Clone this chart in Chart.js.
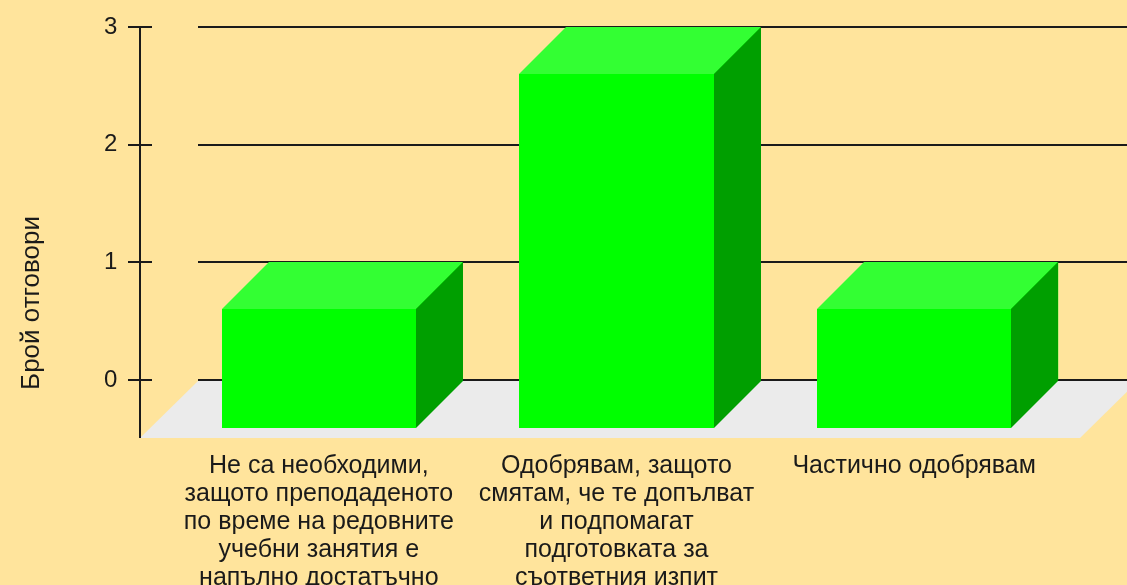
<!DOCTYPE html>
<html><head><meta charset="utf-8">
<script src="https://cdn.jsdelivr.net/npm/chart.js@4/dist/chart.umd.min.js"></script>
<style>html,body{margin:0;padding:0;background:#FFE49C;overflow:hidden}#wrap{width:1127px;height:585px;position:relative}</style>
</head><body><div id="wrap"><canvas id="c" width="1127" height="585"></canvas></div>
<script>
const categories = [
  ["Не са необходими,", "защото преподаденото", "по време на редовните", "учебни занятия е", "напълно достатъчно"],
  ["Одобрявам, защото", "смятам, че те допълват", "и подпомагат", "подготовката за", "съответния изпит"],
  ["Частично одобрявам"]
];
const answers = [1, 3, 1];
const yTickValues = [0, 1, 2, 3];
const yTitle = "Брой отговори";

const BG = '#FFE49C';
const FONT = "'Liberation Sans', Arial, sans-serif";
const DEPTH = 47;

function poly(ctx, pts) {
  ctx.beginPath();
  ctx.moveTo(pts[0][0], pts[0][1]);
  for (let i = 1; i < pts.length; i++) ctx.lineTo(pts[i][0], pts[i][1]);
  ctx.closePath();
  ctx.fill();
}

const threeD = {
  id: 'threeD',
  beforeDraw(chart) {
    const ctx = chart.ctx;
    ctx.save();
    ctx.fillStyle = BG;
    ctx.fillRect(0, 0, chart.width, chart.height);
    ctx.restore();
  },
  beforeDatasetsDraw(chart) {
    const {ctx, chartArea} = chart;
    const y = chart.scales.y;
    const axisX = chartArea.left - 77;
    const zero = y.getPixelForValue(0);
    const floorDepth = Math.round(chartArea.bottom - zero);
    const wallX = axisX + floorDepth;
    ctx.save();
    // back wall grid lines
    ctx.strokeStyle = '#1a1a1a';
    ctx.lineWidth = 2;
    yTickValues.forEach(v => {
      const py = Math.round(y.getPixelForValue(v));
      ctx.beginPath(); ctx.moveTo(wallX, py); ctx.lineTo(chart.width, py); ctx.stroke();
    });
    // floor
    ctx.fillStyle = '#EBEBEB';
    const fb = Math.round(chartArea.bottom);
    poly(ctx, [[axisX, fb], [axisX + 940, fb], [axisX + 940 + floorDepth, zero + 1], [wallX, zero + 1]]);
    // y axis line and ticks
    ctx.beginPath(); ctx.moveTo(axisX, chartArea.top); ctx.lineTo(axisX, fb); ctx.stroke();
    yTickValues.forEach(v => {
      const py = Math.round(y.getPixelForValue(v));
      ctx.beginPath(); ctx.moveTo(axisX - 12, py); ctx.lineTo(axisX + 12, py); ctx.stroke();
    });
    // y axis title
    ctx.fillStyle = '#1a1a1a';
    ctx.font = '26px ' + FONT;
    ctx.textAlign = 'center';
    ctx.textBaseline = 'alphabetic';
    ctx.translate(39, 303);
    ctx.rotate(-Math.PI / 2);
    ctx.fillText(yTitle, 0, 0);
    ctx.restore();
  },
  afterDatasetsDraw(chart) {
    const ctx = chart.ctx;
    const meta = chart.getDatasetMeta(0);
    ctx.save();
    meta.data.forEach(bar => {
      const p = bar.getProps(['x', 'y', 'base', 'width'], true);
      const bl = Math.round(p.x - p.width / 2), br = Math.round(p.x + p.width / 2);
      const top = Math.round(p.y), base = Math.round(p.base) + 1;
      const d = DEPTH;
      ctx.fillStyle = '#33FF33';
      poly(ctx, [[bl - d, top + d], [br - d, top + d], [br, top], [bl, top]]);
      ctx.fillStyle = '#009F00';
      poly(ctx, [[br - d, top + d], [br, top], [br, base], [br - d, base + d]]);
      ctx.fillStyle = '#00FF00';
      ctx.fillRect(bl - d, top + d, br - bl, base - top);
    });
    ctx.restore();
  }
};

new Chart(document.getElementById('c'), {
  type: 'bar',
  data: {
    labels: categories,
    datasets: [{
      data: answers,
      backgroundColor: '#00FF00',
      borderWidth: 0,
      barPercentage: 0.652,
      categoryPercentage: 1
    }]
  },
  options: {
    responsive: false,
    animation: false,
    devicePixelRatio: 1,
    layout: {padding: {left: 104, right: 17, top: 27, bottom: 0}},
    plugins: {legend: {display: false}, tooltip: {enabled: false}, title: {display: false}},
    scales: {
      x: {
        grid: {display: false, drawTicks: false},
        border: {display: false},
        ticks: {
          autoSkip: false, maxRotation: 0, minRotation: 0,
          labelOffset: -DEPTH,
          padding: 14,
          color: '#1a1a1a',
          font: {family: FONT, size: 25, lineHeight: 1.12}
        },
        afterFit(scale) { scale.height = 147; }
      },
      y: {
        min: -0.493, max: 3,
        grid: {display: false, drawTicks: false},
        border: {display: false},
        afterBuildTicks(scale) { scale.ticks = yTickValues.map(v => ({value: v})); },
        ticks: {
          padding: 0,
          crossAlign: 'far',
          color: '#1a1a1a',
          font: {family: FONT, size: 24}
        },
        afterFit(scale) { scale.width = 113; }
      }
    }
  },
  plugins: [threeD]
});
</script>
</body></html>
